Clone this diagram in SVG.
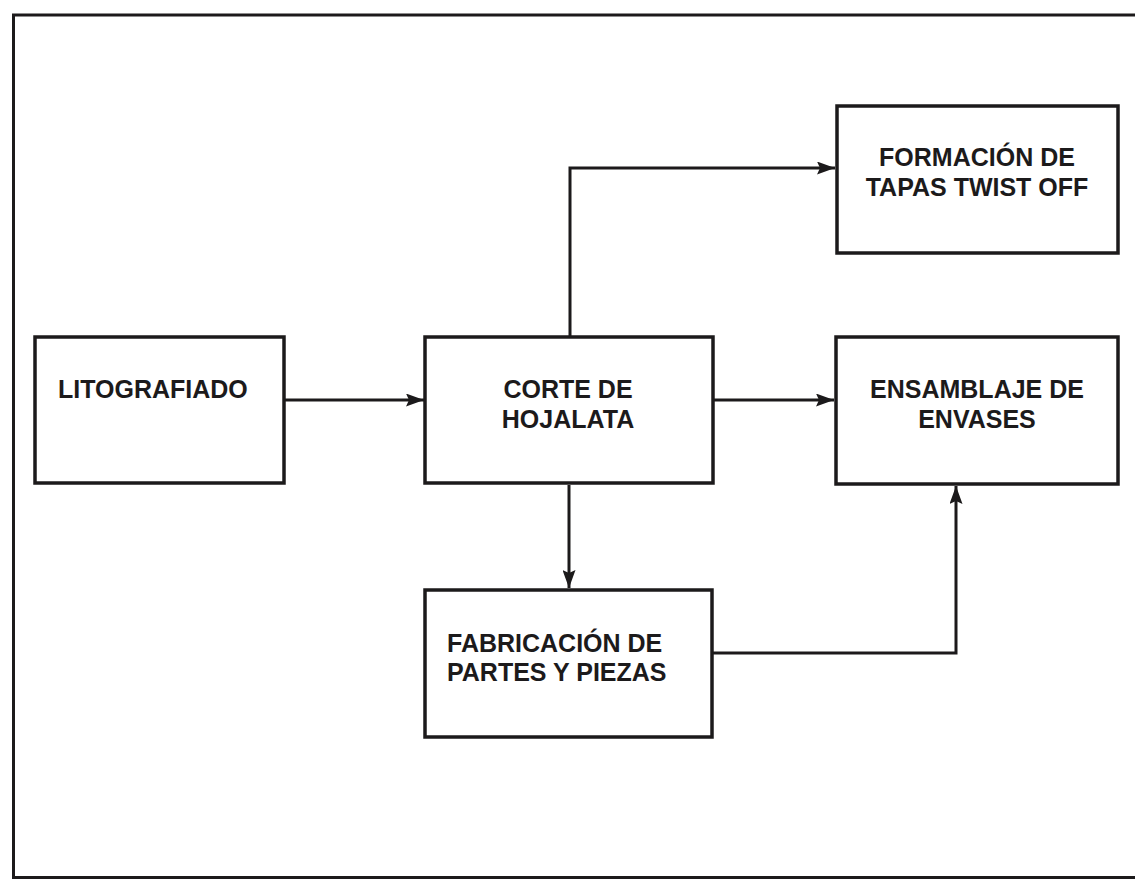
<svg xmlns="http://www.w3.org/2000/svg" width="1135" height="880" viewBox="0 0 1135 880">
<style>
.box{fill:#fff;stroke:#1c1a1b;stroke-width:3.5}
.t{font-family:"Liberation Sans",Arial,sans-serif;font-weight:bold;font-size:25px;fill:#1c1a1b}
.c{text-anchor:middle}
.ln{fill:none;stroke:#1c1a1b;stroke-width:3}
</style>
<defs>
<marker id="a2" viewBox="0 0 18 13" refX="18" refY="6.5" markerWidth="18" markerHeight="13" markerUnits="userSpaceOnUse" orient="auto">
<path d="M0,0 L18,6.5 L0,13 L3,6.5 Z" fill="#1c1a1b"/>
</marker>
</defs>
<rect width="1135" height="880" fill="#fff"/>
<g id="frame"><path d="M1135,15 L13.5,15 L13.5,877.5 L1135,877.5" class="ln" stroke-width="3.5"/></g>
<g id="connectors">
<line x1="285" y1="400" x2="424" y2="400" class="ln" marker-end="url(#a2)"/>
<line x1="713" y1="400" x2="834" y2="400" class="ln" marker-end="url(#a2)"/>
<polyline points="570,336 570,168 835,168" class="ln" marker-end="url(#a2)"/>
<line x1="569" y1="485" x2="569" y2="588" class="ln" marker-end="url(#a2)"/>
<polyline points="713,653 956,653 956,486" class="ln" marker-end="url(#a2)"/>
</g>
<g id="litografiado"><rect class="box" x="35" y="337" width="249" height="146"/><text class="t" x="58" y="398">LITOGRAFIADO</text></g>
<g id="corte"><rect class="box" x="425" y="337" width="288" height="146"/><text class="t c" x="568" y="398">CORTE DE</text><text class="t c" x="568" y="428">HOJALATA</text></g>
<g id="formacion"><rect class="box" x="837" y="106" width="281" height="147"/><text class="t c" x="977" y="166">FORMACIÓN DE</text><text class="t c" x="977" y="196">TAPAS TWIST OFF</text></g>
<g id="ensamblaje"><rect class="box" x="836" y="337" width="282" height="147"/><text class="t c" x="977" y="398">ENSAMBLAJE DE</text><text class="t c" x="977" y="428">ENVASES</text></g>
<g id="fabricacion"><rect class="box" x="425" y="590" width="287" height="147"/><text class="t" x="447" y="652">FABRICACIÓN DE</text><text class="t" x="447" y="681">PARTES Y PIEZAS</text></g>
</svg>
